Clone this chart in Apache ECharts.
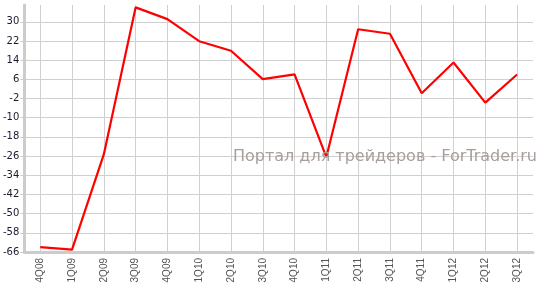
<!DOCTYPE html>
<html>
<head>
<meta charset="utf-8">
<script src="https://cdn.jsdelivr.net/npm/echarts@6/dist/echarts.min.js"></script>
<style>html,body{margin:0;padding:0;background:#fff}#c{width:545px;height:295px}</style>
</head>
<body>
<div id="c"></div>
<script>
var categories = ['4Q08','1Q09','2Q09','3Q09','4Q09','1Q10','2Q10','3Q10','4Q10','1Q11','2Q11','3Q11','4Q11','1Q12','2Q12','3Q12'];
var values = [-64.0, -65.0, -25.3, 36.0, 31.1, 21.9, 17.9, 6.1, 8.1, -26.4, 26.9, 25.0, 0.2, 13.0, -3.7, 8.0];
var yMin = -66, yMax = 37, yStep = 8;
var watermark = 'Портал для трейдеров - ForTrader.ru';

var chart = echarts.init(document.getElementById('c'), null, {renderer: 'canvas'});
chart.setOption({
  animation: false,
  grid: {left: 22, right: 12, top: 5, bottom: 43},
  xAxis: {
    type: 'category',
    data: categories,
    boundaryGap: true,
    axisLine: {onZero: false, lineStyle: {color: '#cccccc', width: 3}},
    axisTick: {alignWithLabel: true, length: 4, lineStyle: {color: '#cccccc'}},
    axisLabel: {rotate: 90, margin: 6, color: '#555', fontFamily: 'Liberation Sans', fontSize: 10, interval: 0},
    splitLine: {show: true, alignWithLabel: true, lineStyle: {color: '#d0d0d0', width: 1}}
  },
  yAxis: {
    type: 'value',
    min: yMin, max: yMax, interval: yStep,
    axisLine: {show: true, onZero: false, lineStyle: {color: '#cccccc', width: 3}},
    axisTick: {show: true, length: 4, lineStyle: {color: '#cccccc'}},
    axisLabel: {color: '#1a1a2e', fontFamily: 'DejaVu Sans', fontSize: 10, margin: 5, showMaxLabel: false},
    splitLine: {show: true, showMaxLine: false, lineStyle: {color: '#d0d0d0', width: 1}}
  },
  graphic: [{
    type: 'text', right: 8, top: 149, z: 100,
    style: {text: watermark, fill: '#a89e9a', font: '16px "DejaVu Sans"'}
  }],
  series: [{
    type: 'line',
    data: values,
    symbol: 'none',
    lineStyle: {color: '#ff0000', width: 2.2}
  }]
});
</script>
</body>
</html>
